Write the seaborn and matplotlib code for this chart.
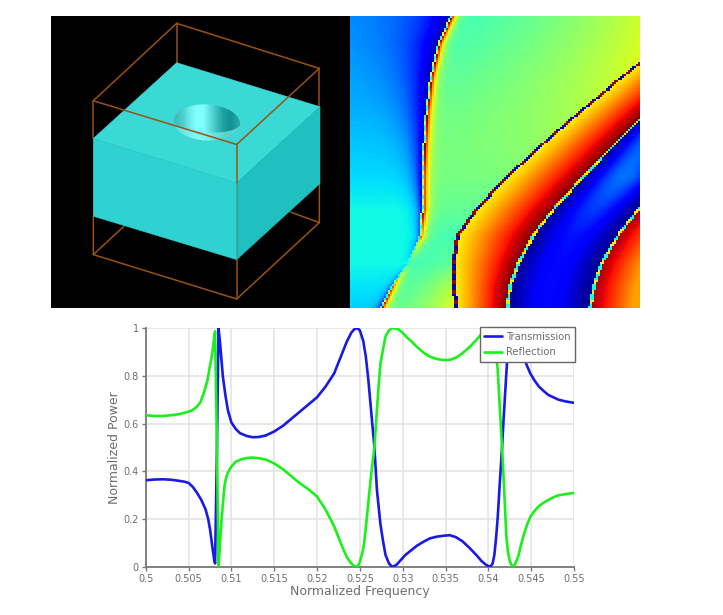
import numpy as np
import pandas as pd
import matplotlib
matplotlib.use('Agg')
import matplotlib.pyplot as plt
from matplotlib.colors import LinearSegmentedColormap
from matplotlib.patches import Ellipse
import seaborn as sns

# spectrum
t_freq = [0.5, 0.501, 0.502, 0.503, 0.504, 0.5045, 0.505, 0.5055, 0.506, 0.5065, 0.507, 0.5073, 0.5075, 0.5078,
          0.508, 0.5081, 0.5083, 0.5085, 0.5087, 0.509, 0.5093, 0.5096, 0.51, 0.5105, 0.511, 0.5118, 0.5125,
          0.5132, 0.514, 0.515, 0.516, 0.517, 0.518, 0.519, 0.52, 0.521, 0.522, 0.5225, 0.523, 0.5235, 0.524,
          0.5243, 0.5247, 0.525, 0.5254, 0.5257, 0.526, 0.5263, 0.5267, 0.527, 0.5274, 0.5277, 0.528, 0.5284,
          0.5288, 0.5293, 0.5298, 0.5303, 0.531, 0.5317, 0.5325, 0.5332, 0.534, 0.5348, 0.5355, 0.5362, 0.537,
          0.5378, 0.5386, 0.5392, 0.5397, 0.5402, 0.5405, 0.5407, 0.5409, 0.5411, 0.5413, 0.5416, 0.5418, 0.5421,
          0.5423, 0.5425, 0.5428, 0.5432, 0.5437, 0.544, 0.5443, 0.5449, 0.5454, 0.5459, 0.5465, 0.547, 0.5476,
          0.5482, 0.549, 0.55]
t_power = [0.363, 0.366, 0.367, 0.365, 0.36, 0.357, 0.352, 0.335, 0.31, 0.28, 0.24, 0.2, 0.16, 0.08,
           0.03, 0.015, 0.45, 1.0, 0.93, 0.8, 0.72, 0.655, 0.605, 0.578, 0.56, 0.548, 0.543,
           0.544, 0.55, 0.567, 0.59, 0.62, 0.65, 0.68, 0.71, 0.755, 0.81, 0.855, 0.9, 0.945, 0.98,
           0.993, 1.0, 0.99, 0.945, 0.88, 0.78, 0.66, 0.5, 0.32, 0.18, 0.11, 0.05, 0.015,
           0.0, 0.01, 0.03, 0.05, 0.07, 0.09, 0.107, 0.12, 0.127, 0.131, 0.133, 0.125, 0.107,
           0.08, 0.05, 0.025, 0.01, 0.0, 0.015, 0.05, 0.12, 0.21, 0.33, 0.5, 0.63, 0.81,
           0.92, 0.985, 1.0, 0.99, 0.96, 0.91, 0.86, 0.81, 0.78, 0.755, 0.735, 0.72, 0.71,
           0.70, 0.693, 0.687]
r_freq = [0.5, 0.501, 0.502, 0.503, 0.504, 0.505, 0.5055, 0.506, 0.5064, 0.5068, 0.5072, 0.5075, 0.5078, 0.508,
          0.5081, 0.5083, 0.5085, 0.5087, 0.5088, 0.509, 0.5092, 0.5094, 0.5096, 0.51, 0.5105, 0.5111, 0.5118,
          0.5125, 0.5132, 0.514, 0.515, 0.516, 0.517, 0.518, 0.519, 0.52, 0.521, 0.522, 0.5225, 0.523, 0.5235,
          0.524, 0.5243, 0.5247, 0.525, 0.5253, 0.5255, 0.5258, 0.5261, 0.5263, 0.5265, 0.5267, 0.527, 0.5272,
          0.5274, 0.5277, 0.528, 0.5284, 0.5288, 0.5295, 0.53, 0.5305, 0.531, 0.5317, 0.5325, 0.5332, 0.534,
          0.5348, 0.5355, 0.5362, 0.537, 0.5378, 0.5386, 0.5392, 0.5397, 0.5402, 0.5405, 0.5407, 0.5409, 0.5411,
          0.5413, 0.5416, 0.5418, 0.5421, 0.5423, 0.5425, 0.5428, 0.5431, 0.5435, 0.5438, 0.5441, 0.5445, 0.5449,
          0.5454, 0.5459, 0.5465, 0.547, 0.5476, 0.5482, 0.549, 0.55]
r_power = [0.635, 0.632, 0.632, 0.635, 0.64, 0.65, 0.657, 0.672, 0.69, 0.73, 0.78, 0.84, 0.9, 0.96,
           0.986, 0.55, 0.0, 0.11, 0.17, 0.26, 0.34, 0.375, 0.395, 0.42, 0.44, 0.45, 0.456,
           0.458, 0.455, 0.45, 0.433, 0.41, 0.38, 0.35, 0.325, 0.295, 0.24, 0.17, 0.125, 0.08, 0.04,
           0.015, 0.005, 0.0, 0.02, 0.06, 0.10, 0.2, 0.31, 0.38, 0.44, 0.5, 0.66, 0.76,
           0.85, 0.91, 0.965, 0.99, 1.0, 0.995, 0.98, 0.96, 0.945, 0.92, 0.895, 0.88, 0.87,
           0.866, 0.867, 0.875, 0.895, 0.92, 0.95, 0.975, 0.995, 1.0, 0.97, 0.95, 0.89, 0.825,
           0.69, 0.5, 0.36, 0.13, 0.06, 0.025, 0.0, 0.01, 0.045, 0.09, 0.13, 0.175, 0.21,
           0.235, 0.255, 0.27, 0.28, 0.292, 0.30, 0.305, 0.31]
x_ticks = [0.5, 0.505, 0.51, 0.515, 0.52, 0.525, 0.53, 0.535, 0.54, 0.545, 0.55]
x_labels = ['0.5', '0.505', '0.51', '0.515', '0.52', '0.525', '0.53', '0.535', '0.54', '0.545', '0.55']
y_ticks = [0, 0.2, 0.4, 0.6, 0.8, 1]
y_labels = ['0', '0.2', '0.4', '0.6', '0.8', '1']

# band map: where each band edge sits in each row, and the colour value next to it
rows = [18, 100, 200, 300, 400, 500, 600, 680, 760, 830, 893]
edge_a = [305, 268, 245, 232, 225, 220, 220, 213, 175, 130, 97]
edge_b = [1050, 950, 822, 700, 585, 478, 385, 328, 317, 320, 322]
edge_c = [1180, 1100, 1000, 890, 790, 695, 605, 543, 500, 475, 468]
edge_d = [1250, 1150, 1080, 1020, 980, 950, 860, 797, 750, 727, 717]
far_left = [0.27, 0.28, 0.29, 0.30, 0.32, 0.34, 0.37, 0.37, 0.37, 0.35, 0.33]
near_a = [0.43, 0.44, 0.46, 0.48, 0.49, 0.49, 0.47, 0.44, 0.43, 0.44, 0.45]
near_b = [0.68, 0.64, 0.60, 0.56, 0.53, 0.50, 0.47, 0.43, 0.47, 0.58, 0.63]
a_width = [95, 85, 65, 45, 32, 22, 14, 10, 10, 10, 10]
a_strength = [1, 1, 1, 1, 1, 1, 1, 0.7, 0, 0.7, 1]
mid_gap = [0.22, 0.22, 0.22, 0.22, 0.2, 0.22, 0.16, 0.12, 0.11, 0.11, 0.11]

# block drawing, in picture coordinates
top_face = [(380, 158), (810, 290), (560, 518), (130, 385)]
front_face = [(130, 385), (560, 518), (560, 748), (130, 618)]
side_face = [(560, 518), (810, 290), (810, 520), (560, 748)]
wire_back = [[(130, 272), (380, 40), (808, 175)], [(380, 40), (380, 158)],
             [(130, 733), (222, 648)], [(808, 637), (720, 605)],
             [(130, 385), (130, 272)], [(130, 618), (130, 733), (560, 866), (808, 637), (808, 520)],
             [(808, 290), (808, 175)], [(560, 748), (560, 866)]]
wire_front = [[(130, 272), (560, 403), (808, 175)], [(560, 403), (560, 518)]]
wire_color = '#9a5212'
hole_shades = [0.45, 0.6, 0.85, 1.0, 1.0, 0.72, 0.45, 0.2, 0.08, 0.25]


def px_axes(fig, left, top, right, bottom):
    return fig.add_axes([left / 723, 1 - bottom / 615, (right - left) / 723, (bottom - top) / 615])


def band_field(n=145):
    field = np.zeros((n, n))
    ys = np.linspace(18, 893, n)
    xs = (np.arange(n) + 0.5) * 870 / n
    for i, y in enumerate(ys):
        a, b, c, d = [np.interp(y, rows, e) for e in (edge_a, edge_b, edge_c, edge_d)]
        s = np.interp(y, rows, a_strength)
        base = np.interp(y, rows, far_left)
        ga = np.interp(y, rows, near_a)
        gb = np.interp(y, rows, near_b)
        w = np.interp(y, rows, a_width)
        m = np.interp(y, rows, mid_gap)
        # the thin edges flicker along their length, one dot every 30 or so
        odd = int(y / 15) % 2
        for j, x in enumerate(xs):
            if x < a:
                v = base - s * (base - 0.02) * np.exp(-(a - x) / w)
                if x > a - 6:
                    v = base + s * ((0.4 if odd else 0.62) - base)
            elif x < b - 12:
                t = (x - a) / (b - a)
                v = ga + (gb - ga) * t ** 1.5
                v += s * (1 - v) * np.exp(-(x - a) / 12)
            elif x < b:
                v = 0.04 if odd else 0.98
            elif x < c:
                v = 0.66 + 0.34 * ((x - b) / (c - b)) ** 1.1
            elif x < d:
                t = (x - c) / (d - c)
                v = 0.02 + m * np.sin(np.pi * t) ** 1.5
                if x < c + 10:
                    v = 0.38 if odd else 0.66
            else:
                v = 0.98 - 0.24 * min((x - d) / 130, 1)
                if x < d + 10:
                    v = 0.38 if odd else 0.66
            field[i, j] = v
    return field


sns.set_theme(style='white')
fig = plt.figure(figsize=(7.23, 6.15), dpi=100)

# top left, the block
ax = px_axes(fig, 51, 16, 350, 308)
ax.set_facecolor('black')
ax.set_xticks([])
ax.set_yticks([])
sns.despine(ax=ax, left=True, bottom=True)
for pts in wire_back:
    ax.plot(*zip(*pts), color=wire_color, lw=1.1, zorder=1)
ax.fill(*zip(*top_face), color='#3bd9d6', ec='#3bd9d6', lw=0.4, zorder=2)
ax.fill(*zip(*front_face), color='#30d1d1', ec='#30d1d1', lw=0.4, zorder=2)
ax.fill(*zip(*side_face), color='#1fc0bf', ec='#1fc0bf', lw=0.4, zorder=2)
hole_cmap = LinearSegmentedColormap.from_list('hole', ['#068888', '#80ffff'])
hole = ax.imshow(np.array([hole_shades]), extent=(368, 572, 393, 283), aspect='auto', zorder=3,
                 interpolation='bilinear', cmap=hole_cmap, vmin=0, vmax=1)
ax.set_xlim(3, 900)
ax.set_ylim(893, 18)
rim = Ellipse((470, 337), 200, 108, angle=3, transform=ax.transData)
hole.set_clip_path(rim)
# lit crescent along the lower rim
ang = np.radians(np.linspace(0, 180, 40))
tilt = np.radians(3)
ex = np.r_[100 * np.cos(ang), 100 * np.cos(ang[::-1])]
ey = np.r_[54 * np.sin(ang), 30 * np.sin(ang[::-1])]
ax.fill(470 + ex * np.cos(tilt) - ey * np.sin(tilt), 337 + ex * np.sin(tilt) + ey * np.cos(tilt),
        color='#7af5ec', alpha=0.65, lw=0, zorder=4)
for pts in wire_front:
    ax.plot(*zip(*pts), color=wire_color, lw=1.1, zorder=5)
ax.plot([560, 560], [518, 748], color=wire_color, lw=1.0, alpha=0.3, zorder=5)

# top right, the band map
ax = px_axes(fig, 350, 16, 640, 308)
sns.heatmap(band_field(), ax=ax, cmap='jet', vmin=0, vmax=1, cbar=False, xticklabels=False, yticklabels=False)

# bottom, the spectrum
ax = px_axes(fig, 145.7, 328, 574, 567)
grey = '#6e6e6e'
t_df = pd.DataFrame({'freq': t_freq, 'power': t_power})
r_df = pd.DataFrame({'freq': r_freq, 'power': r_power})
sns.lineplot(data=t_df, x='freq', y='power', ax=ax, color='#1a1ae6', lw=1.9, label='Transmission', zorder=3, estimator=None, sort=False)
sns.lineplot(data=r_df, x='freq', y='power', ax=ax, color='#1af01a', lw=1.9, label='Reflection', zorder=4, estimator=None, sort=False)
ax.set_xlim(0.5, 0.55)
ax.set_ylim(0, 1)
ax.set_xticks(x_ticks, x_labels)
ax.set_yticks(y_ticks, y_labels)
ax.grid(True, color='#e2e2e2', lw=1.1)
ax.set_axisbelow(True)
sns.despine(ax=ax)
for side in ['left', 'bottom']:
    ax.spines[side].set_color('#777777')
    ax.spines[side].set_linewidth(1.3)
ax.tick_params(left=True, bottom=True, length=3, width=1, color='#777777', labelsize=7, labelcolor=grey, pad=2)
ax.set_xlabel('Normalized Frequency', fontsize=9, color=grey, labelpad=1)
ax.set_ylabel('Normalized Power', fontsize=9, color=grey, labelpad=2)
leg = ax.legend(loc='upper right', bbox_to_anchor=(1.003, 1.003), fontsize=7.2, frameon=True, fancybox=False,
                framealpha=1, edgecolor='#666666', borderpad=0.45, labelspacing=0.55, handlelength=1.8, handletextpad=0.4, borderaxespad=0)
leg.get_frame().set_linewidth(1.0)
leg.set_zorder(10)
for text in leg.get_texts():
    text.set_color(grey)

fig.savefig('out.png', dpi=100)
